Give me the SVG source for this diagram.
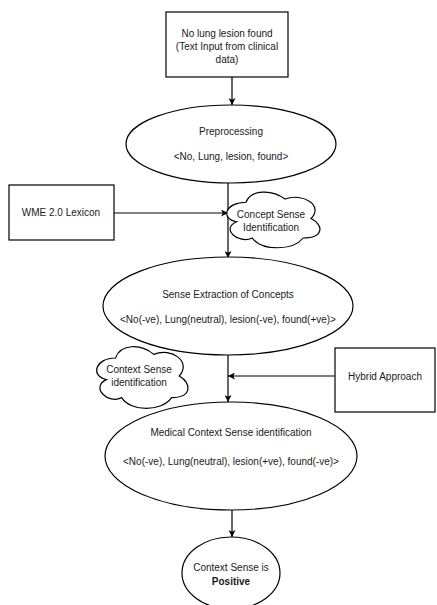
<svg xmlns="http://www.w3.org/2000/svg" width="437" height="605" viewBox="0 0 437 605">
<style>
.s{fill:#fff;stroke:#000;stroke-width:1.2}
.c{fill:none;stroke:#000;stroke-width:1.2}
text{font-family:"Liberation Sans",Arial,sans-serif;font-size:10px;fill:#1a1a1a;text-anchor:middle}
.b{font-weight:bold}
</style>
<defs>
<marker id="a" viewBox="0 0 10 10" refX="10" refY="5" markerWidth="7" markerHeight="7" orient="auto" markerUnits="userSpaceOnUse">
<path d="M0,0 L10,5 L0,10 L2.5,5 Z" fill="#000"/>
</marker>
</defs>
<rect width="437" height="605" fill="#fff"/>
<g id="connectors">
<line class="c" x1="232" y1="77" x2="232" y2="105" marker-end="url(#a)"/>
<line class="c" x1="228" y1="183" x2="228" y2="258" marker-end="url(#a)"/>
<line class="c" x1="114" y1="213" x2="228" y2="213" marker-end="url(#a)"/>
<line class="c" x1="228" y1="355" x2="228" y2="402" marker-end="url(#a)"/>
<line class="c" x1="335" y1="376" x2="228" y2="376" marker-end="url(#a)"/>
<line class="c" x1="232" y1="510" x2="232" y2="537" marker-end="url(#a)"/>
</g>
<g id="input">
<rect class="s" x="166" y="12" width="122" height="65"/>
<text x="227" y="37">No lung lesion found</text>
<text x="227" y="50">(Text Input from clinical</text>
<text x="227" y="63">data)</text>
</g>
<g id="preprocessing">
<ellipse class="s" cx="231" cy="144" rx="105" ry="39"/>
<text x="231" y="135">Preprocessing</text>
<text x="231" y="160">&lt;No, Lung, lesion, found&gt;</text>
</g>
<g id="lexicon">
<rect class="s" x="9" y="185" width="105" height="55"/>
<text x="61" y="216">WME 2.0 Lexicon</text>
</g>
<g id="concept-cloud">
<path class="s" transform="translate(220,186)" d="M26,16.25 C5.2,16.25 0,32.5 16.64,35.75 C0,42.9 18.72,58.5 32.24,52 C41.6,65 72.8,65 83.2,52 C104,52 104,39 91,32.5 C104,19.5 83.2,6.5 65,13 C52,3.25 31.2,3.25 26,16.25 Z"/>
<text x="271" y="218">Concept Sense</text>
<text x="271" y="231">Identification</text>
</g>
<g id="sense-extraction">
<ellipse class="s" cx="228" cy="306" rx="125" ry="49"/>
<text x="228" y="298">Sense Extraction of Concepts</text>
<text x="228" y="323">&lt;No(-ve), Lung(neutral), lesion(-ve), found(+ve)&gt;</text>
</g>
<g id="context-cloud">
<path class="s" transform="translate(90,340)" d="M25.5,18 C5.1,18 0,36 16.32,39.6 C0,47.52 18.36,64.8 31.62,57.6 C40.8,72 71.4,72 81.6,57.6 C102,57.6 102,43.2 89.25,36 C102,21.6 81.6,7.2 63.75,14.4 C51,3.6 30.6,3.6 25.5,18 Z"/>
<text x="139" y="373">Context Sense</text>
<text x="139" y="386">identification</text>
</g>
<g id="hybrid">
<rect class="s" x="335" y="348" width="100" height="64"/>
<text x="385" y="380">Hybrid Approach</text>
</g>
<g id="medical-context">
<ellipse class="s" cx="231" cy="456" rx="126" ry="54"/>
<text x="231" y="436">Medical Context Sense identification</text>
<text x="231" y="465">&lt;No(-ve), Lung(neutral), lesion(+ve), found(-ve)&gt;</text>
</g>
<g id="result">
<ellipse class="s" cx="231" cy="573" rx="49" ry="36"/>
<text x="231" y="571">Context Sense is</text>
<text class="b" x="231" y="585">Positive</text>
</g>
</svg>
